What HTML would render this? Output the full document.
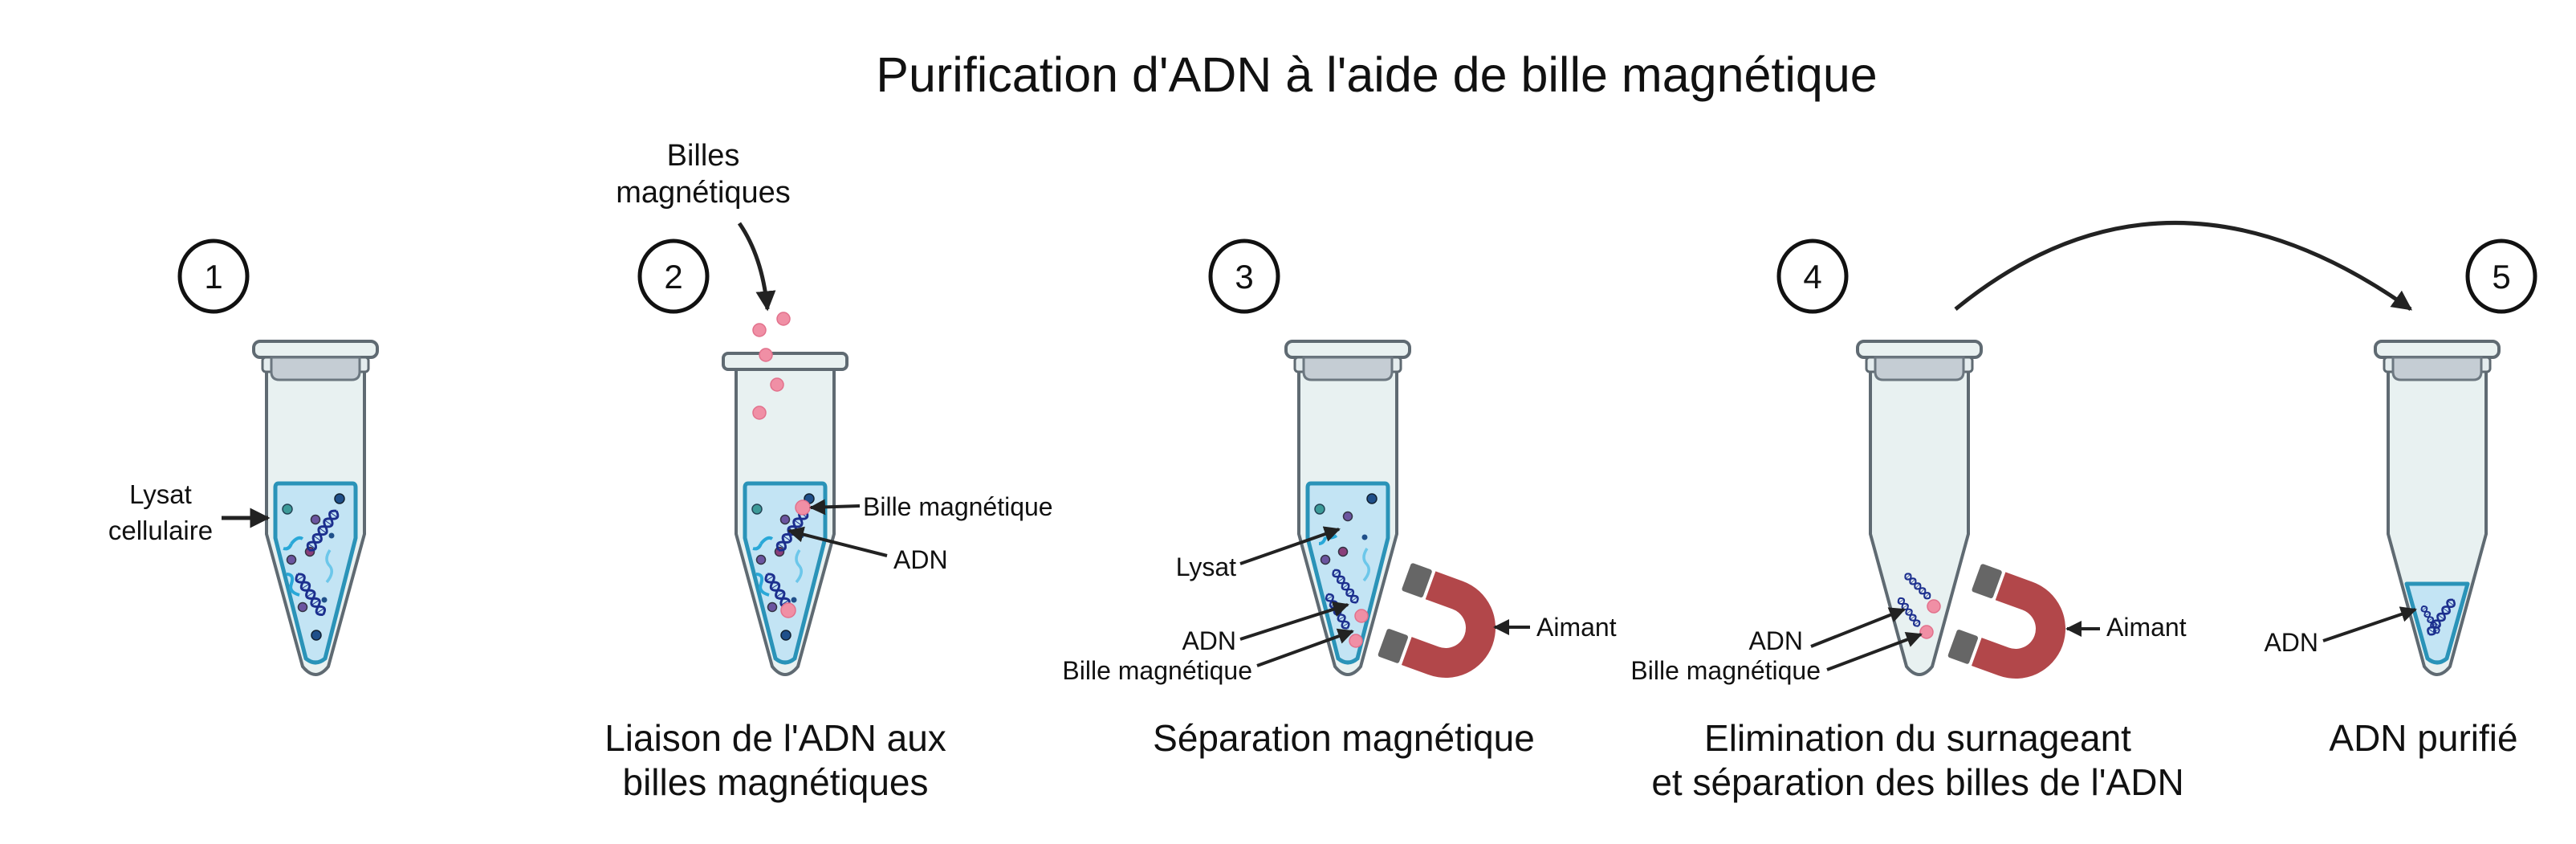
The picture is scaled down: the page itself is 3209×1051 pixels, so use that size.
<!DOCTYPE html>
<html><head><meta charset="utf-8"><style>
html,body{margin:0;padding:0;background:#fff;}
svg{display:block;}
text{font-family:"Liberation Sans",sans-serif;fill:#111;}
</style></head><body>
<svg width="3209" height="1051" viewBox="0 0 3209 1051" xmlns="http://www.w3.org/2000/svg">
<defs>
<marker id="ah" viewBox="0 0 10 10" refX="9" refY="5" markerWidth="5" markerHeight="5" orient="auto" markerUnits="strokeWidth">
<path d="M0,0 L10,5 L0,10 Z" fill="#222"/></marker>
<g id="helix">
<path d="M0,0 q7,-13 14,0 t14,0 t14,0 t14,0 t14,0" fill="none" stroke="#1c2f8e" stroke-width="3.5"/>
<path d="M0,0 q7,13 14,0 t14,0 t14,0 t14,0 t14,0" fill="none" stroke="#1c2f8e" stroke-width="3.5"/>
<path d="M7,-6 v12 M21,-6 v12 M35,-6 v12 M49,-6 v12 M63,-6 v12" stroke="#1c2f8e" stroke-width="1.2"/>
</g>
<g id="tubeShell">
<rect x="-77" y="0" width="154" height="20" rx="8" fill="#e9f1f1" stroke="#5f6a72" stroke-width="4"/>
<path d="M-61,37 L-61,240 L-16,405 Q0,425 16,405 L61,240 L61,37 Z" fill="#e8f1f1" stroke="#5f6a72" stroke-width="4"/>
<rect x="-66" y="20" width="132" height="18" rx="4" fill="#e4ecee" stroke="#5f6a72" stroke-width="3"/>
<path d="M-55,20 L55,20 L55,38 Q55,48 45,48 L-45,48 Q-55,48 -55,38 Z" fill="#c5cdd4" stroke="#6c7780" stroke-width="3"/>
</g>
<g id="liquid">
<path d="M-46,177 L46,177 Q50,177 50,182 L50,245 L12,395 Q0,405 -12,395 L-50,245 L-50,182 Q-50,177 -46,177 Z" fill="#c3e4f4" stroke="#2a93b8" stroke-width="5"/>
</g>
<g id="dots">
<circle cx="-35" cy="209" r="6" fill="#3c9a98" stroke="#245" stroke-width="1.5"/>
<circle cx="30" cy="196" r="6" fill="#1f4f8a" stroke="#123" stroke-width="1.5"/>
<circle cx="0" cy="222" r="5.5" fill="#6b55a0" stroke="#334" stroke-width="1.5"/>
<circle cx="20" cy="242" r="3.5" fill="#1f4f8a"/>
<circle cx="-7" cy="262" r="5.5" fill="#8a3f7a" stroke="#334" stroke-width="1.5"/>
<circle cx="-30" cy="272" r="5.5" fill="#6b55a0" stroke="#334" stroke-width="1.5"/>
<circle cx="-16" cy="331" r="5.5" fill="#6b55a0" stroke="#334" stroke-width="1.5"/>
<circle cx="11" cy="322" r="3.5" fill="#1f4f8a"/>
<circle cx="1" cy="366" r="6" fill="#1f4f8a" stroke="#123" stroke-width="1.5"/>
<path d="M-30,252 q8,-10 14,-6 M-30,252 q-3,8 -10,6" fill="none" stroke="#29a8d8" stroke-width="4"/>
<path d="M18,260 q-8,12 0,20 q6,8 -4,20" fill="none" stroke="#6cc7ea" stroke-width="3.5"/>
<path d="M-36,290 q10,0 6,12 q-4,10 10,14" fill="none" stroke="#29a8d8" stroke-width="4"/>
</g>
<g id="magnet">
<path d="M0,-62 A62,62 0 0 1 0,62 L-36,62 L-36,25 L0,25 A25,25 0 0 0 0,-25 L-36,-25 L-36,-62 Z" fill="#b2474a"/>
<rect x="-68" y="-62" width="28" height="37" rx="3" fill="#666"/>
<rect x="-68" y="25" width="28" height="37" rx="3" fill="#666"/>
</g>
</defs>

<text x="1715" y="114" font-size="61" text-anchor="middle">Purification d'ADN à l'aide de bille magnétique</text>

<g fill="none" stroke="#111" stroke-width="5">
<ellipse cx="266" cy="344" rx="42" ry="44"/>
<ellipse cx="839" cy="344" rx="42" ry="44"/>
<ellipse cx="1550" cy="344" rx="42" ry="44"/>
<ellipse cx="2258" cy="344" rx="42" ry="44"/>
<ellipse cx="3116" cy="344" rx="42" ry="44"/>
</g>
<g font-size="42" text-anchor="middle">
<text x="266" y="359">1</text><text x="839" y="359">2</text><text x="1550" y="359">3</text><text x="2258" y="359">4</text><text x="3116" y="359">5</text>
</g>

<!-- Tube 1 -->
<g transform="translate(393,425)">
<use href="#tubeShell"/><use href="#liquid"/><use href="#dots"/>
<use href="#helix" transform="translate(-8,260) rotate(-55) scale(0.85)"/>
<use href="#helix" transform="translate(-22,290) rotate(58) scale(0.85)"/>
</g>
<text x="200" y="627" font-size="33" text-anchor="middle">Lysat</text>
<text x="200" y="672" font-size="33" text-anchor="middle">cellulaire</text>
<line x1="276" y1="645" x2="334" y2="645" stroke="#222" stroke-width="5" marker-end="url(#ah)"/>

<!-- Tube 2 (open) -->
<g transform="translate(978,425)">
<rect x="-77" y="15" width="154" height="20" rx="6" fill="#e9f1f1" stroke="#5f6a72" stroke-width="4"/>
<path d="M-61,35 L-61,240 L-16,405 Q0,425 16,405 L61,240 L61,35 Z" fill="#e8f1f1" stroke="#5f6a72" stroke-width="4"/>
<use href="#liquid"/><use href="#dots"/>
<use href="#helix" transform="translate(-8,260) rotate(-55) scale(0.85)"/>
<use href="#helix" transform="translate(-22,290) rotate(58) scale(0.85)"/>
<g fill="#f08fa5" stroke="#e2718c" stroke-width="1.5">
<circle cx="-2" cy="-28" r="8"/><circle cx="-32" cy="-14" r="8"/><circle cx="-24" cy="17" r="8"/>
<circle cx="-10" cy="54" r="8"/><circle cx="-32" cy="89" r="8"/>
<circle cx="22" cy="207" r="9"/><circle cx="4" cy="335" r="9"/>
</g>
</g>
<text x="876" y="206" font-size="38" text-anchor="middle">Billes</text>
<text x="876" y="252" font-size="38" text-anchor="middle">magnétiques</text>
<path d="M921,278 Q950,320 956,385" fill="none" stroke="#222" stroke-width="5" marker-end="url(#ah)"/>
<text x="1075" y="642" font-size="32">Bille magnétique</text>
<line x1="1071" y1="630" x2="1010" y2="632" stroke="#222" stroke-width="4" marker-end="url(#ah)"/>
<text x="1113" y="708" font-size="32">ADN</text>
<line x1="1105" y1="692" x2="983" y2="661" stroke="#222" stroke-width="4" marker-end="url(#ah)"/>
<text x="966" y="935" font-size="46" text-anchor="middle">Liaison de l'ADN aux</text>
<text x="966" y="990" font-size="46" text-anchor="middle">billes magnétiques</text>

<!-- Tube 3 -->
<g transform="translate(1679,425)">
<use href="#tubeShell"/><use href="#liquid"/>
<circle cx="-35" cy="209" r="6" fill="#3c9a98" stroke="#245" stroke-width="1.5"/>
<circle cx="30" cy="196" r="6" fill="#1f4f8a" stroke="#123" stroke-width="1.5"/>
<circle cx="0" cy="218" r="5.5" fill="#6b55a0" stroke="#334" stroke-width="1.5"/>
<circle cx="21" cy="244" r="3.5" fill="#1f4f8a"/>
<circle cx="-6" cy="262" r="5.5" fill="#8a3f7a" stroke="#334" stroke-width="1.5"/>
<circle cx="-28" cy="272" r="5.5" fill="#6b55a0" stroke="#334" stroke-width="1.5"/>
<path d="M-28,244 q8,2 14,-2 M-28,244 q-2,8 -8,8" fill="none" stroke="#29a8d8" stroke-width="4"/>
<path d="M24,258 q-8,12 0,20 q6,8 -4,20" fill="none" stroke="#6cc7ea" stroke-width="3.5"/>
<use href="#helix" transform="translate(-17,285) rotate(55) scale(0.7)"/>
<use href="#helix" transform="translate(-25,315) rotate(60) scale(0.7)"/>
<g fill="#f08fa5" stroke="#e2718c" stroke-width="1.5"><circle cx="17" cy="342" r="8"/><circle cx="10" cy="373" r="8"/></g>
</g>
<use href="#magnet" transform="translate(1801,782) rotate(20)"/>
<text x="1540" y="717" font-size="32" text-anchor="end">Lysat</text>
<line x1="1545" y1="702" x2="1668" y2="659" stroke="#222" stroke-width="4" marker-end="url(#ah)"/>
<text x="1540" y="809" font-size="32" text-anchor="end">ADN</text>
<line x1="1545" y1="796" x2="1679" y2="753" stroke="#222" stroke-width="4" marker-end="url(#ah)"/>
<text x="1560" y="846" font-size="32" text-anchor="end">Bille magnétique</text>
<line x1="1566" y1="829" x2="1685" y2="786" stroke="#222" stroke-width="4" marker-end="url(#ah)"/>
<text x="1914" y="792" font-size="32">Aimant</text>
<line x1="1906" y1="781" x2="1862" y2="781" stroke="#222" stroke-width="4" marker-end="url(#ah)"/>
<text x="1674" y="935" font-size="46" text-anchor="middle">Séparation magnétique</text>

<!-- Tube 4 -->
<g transform="translate(2391,425)">
<use href="#tubeShell"/>
<use href="#helix" transform="translate(-17,290) rotate(45) scale(0.6)"/>
<use href="#helix" transform="translate(-25,320) rotate(55) scale(0.6)"/>
<g fill="#f08fa5" stroke="#e2718c" stroke-width="1.5"><circle cx="18" cy="330" r="8"/><circle cx="9" cy="362" r="8"/></g>
</g>
<use href="#magnet" transform="translate(2511,783) rotate(20)"/>
<text x="2246" y="809" font-size="32" text-anchor="end">ADN</text>
<line x1="2256" y1="805" x2="2372" y2="759" stroke="#222" stroke-width="4" marker-end="url(#ah)"/>
<text x="2268" y="846" font-size="32" text-anchor="end">Bille magnétique</text>
<line x1="2276" y1="834" x2="2393" y2="790" stroke="#222" stroke-width="4" marker-end="url(#ah)"/>
<text x="2624" y="792" font-size="32">Aimant</text>
<line x1="2616" y1="783" x2="2575" y2="783" stroke="#222" stroke-width="4" marker-end="url(#ah)"/>
<text x="2389" y="935" font-size="46" text-anchor="middle">Elimination du surnageant</text>
<text x="2389" y="990" font-size="46" text-anchor="middle">et séparation des billes de l'ADN</text>

<path d="M2436,385 Q2700,170 3003,385" fill="none" stroke="#222" stroke-width="5" marker-end="url(#ah)"/>

<!-- Tube 5 -->
<g transform="translate(3036,425)">
<use href="#tubeShell"/>
<path d="M-38,302 L38,302 L12,395 Q0,405 -12,395 Z" fill="#c3e4f4" stroke="#2a93b8" stroke-width="5" stroke-linejoin="round"/>
<use href="#helix" transform="translate(-10,365) rotate(-55) scale(0.75)"/>
<use href="#helix" transform="translate(-18,330) rotate(60) scale(0.55)"/>
</g>
<text x="2888" y="811" font-size="32" text-anchor="end">ADN</text>
<line x1="2894" y1="798" x2="3009" y2="759" stroke="#222" stroke-width="4" marker-end="url(#ah)"/>
<text x="3019" y="935" font-size="46" text-anchor="middle">ADN purifié</text>
</svg>
</body></html>
